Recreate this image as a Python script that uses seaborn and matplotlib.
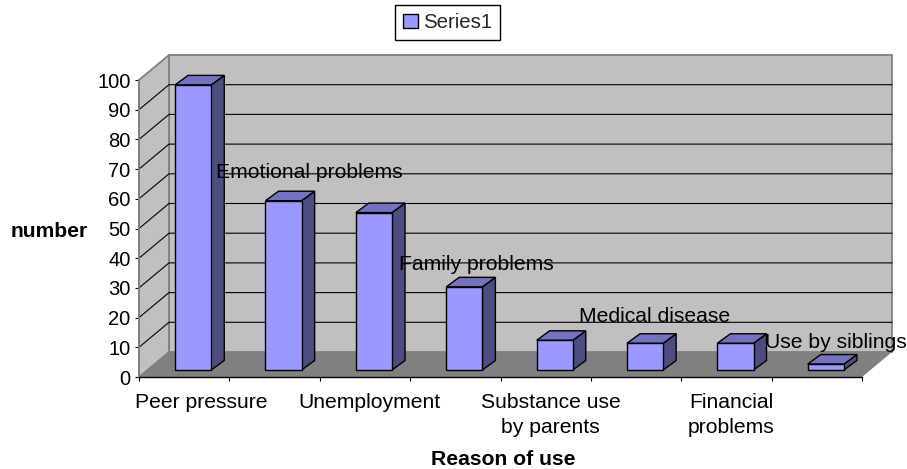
import numpy as np
import pandas as pd
import matplotlib
matplotlib.use('Agg')
import matplotlib.pyplot as plt
import seaborn as sns
from matplotlib.patches import Polygon

categories = ['Peer pressure', 'Emotional problems', 'Unemployment', 'Family problems',
              'Substance use\nby parents', 'Medical disease', 'Financial\nproblems', 'Use by siblings']
values = [96, 57, 53, 28, 10, 9, 9, 2]
series_name = 'Series1'

# labels that sit on the axis, the rest float above the bars
axis_labels = [0, 2, 4, 6]
floating_labels = [1, 3, 5, 7]
floating_x = [1.38, 3.23, 5.2, 7.21]
floating_y = [69, 38, 20.5, 11.5]

sns.set_theme(style='white')
plt.rcParams['font.family'] = ['Liberation Sans', 'DejaVu Sans']

W, H = 907, 469
fig = plt.figure(figsize=(W / 100, H / 100), dpi=100)
ax = fig.add_axes([139 / W, (H - 377) / H, 723 / W, 297 / H])
ax.patch.set_visible(False)

df = pd.DataFrame({'reason': categories, 'value': values})
sns.barplot(x='reason', y='value', data=df, color='#9999FF', saturation=1, width=0.4,
            edgecolor='black', linewidth=1, label=series_name, zorder=5, ax=ax)

ax.set_xlim(-0.5, 7.5)
ax.set_ylim(0, 100)

# one pixel in data units, used for the fake depth
px_x = 8 / 723
px_y = 100 / 297
depth_x, depth_y = 30 * px_x, 25 * px_y


def face(points, color, z, edge='none', lw=0):
    ax.add_patch(Polygon(points, closed=True, facecolor=color, edgecolor=edge, linewidth=lw,
                         clip_on=False, zorder=z))


x0, x1 = -0.5, 7.5
# walls and floor
face([(x0 + depth_x, depth_y), (x1 + depth_x, depth_y), (x1 + depth_x, 100 + depth_y), (x0 + depth_x, 100 + depth_y)],
     '#C0C0C0', 1, '#808080', 1.3)
face([(x0, 0), (x0 + depth_x, depth_y), (x0 + depth_x, 100 + depth_y), (x0, 100)], '#C0C0C0', 1, '#808080', 1.3)
face([(x0, 0), (x1, 0), (x1 + depth_x, depth_y), (x0 + depth_x, depth_y)], '#808080', 2)

for v in range(10, 100, 10):
    ax.plot([x0, x0 + depth_x, x1 + depth_x], [v, v + depth_y, v + depth_y], color='black', lw=0.8,
            clip_on=False, zorder=1.5)

# 3d faces of the bars
shift_x, shift_y = 9 * px_x, 7 * px_y
back_x, back_y = 13 * px_x, 9.5 * px_y
for bar in ax.patches:
    if bar.get_zorder() != 5:
        continue
    bar.set_x(bar.get_x() + shift_x)
    bar.set_y(shift_y)
    bar.set_clip_on(False)
    left, right = bar.get_x(), bar.get_x() + bar.get_width()
    bottom, top = shift_y, shift_y + bar.get_height()
    face([(right, bottom), (right + back_x, bottom + back_y), (right + back_x, top + back_y), (right, top)],
         '#4D4D80', 4, 'black', 1)
    face([(left, top), (right, top), (right + back_x, top + back_y), (left + back_x, top + back_y)],
         '#7373BF', 4, 'black', 1)

ax.set_xticks(np.arange(-0.5, 8.5), labels=[])
ax.set_yticks(range(0, 110, 10))
ax.tick_params(axis='x', length=3, width=0.8, color='black', bottom=True)
ax.tick_params(axis='y', length=3, width=0.8, color='black', left=True, labelsize=14.5, pad=3, labelcolor='black')

for spine in ['top', 'right']:
    ax.spines[spine].set_visible(False)
ax.spines['left'].set_color('#808080')
ax.spines['left'].set_linewidth(1.3)
ax.spines['bottom'].set_color('black')
ax.spines['bottom'].set_linewidth(1)
ax.spines['bottom'].set_zorder(6)

label_nudge = [17, 5, 5, 5]
for i, nudge in zip(axis_labels, label_nudge):
    ax.annotate(categories[i], xy=(i, 0), xycoords='data', xytext=(nudge * 0.72, -11.5), textcoords='offset points',
                ha='center', va='top', fontsize=15.2, color='black', linespacing=1.4, annotation_clip=False)

for i, fx, fy in zip(floating_labels, floating_x, floating_y):
    ax.text(fx, fy, categories[i], ha='center', va='center', fontsize=15.2, color='black', zorder=10, clip_on=False)

ax.set_xlabel('Reason of use', fontsize=15.2, fontweight='bold', color='black', va='center')
ax.xaxis.set_label_coords((503 - 139) / 723, -82 / 297)
ax.set_ylabel('number', fontsize=15.2, fontweight='bold', color='black', rotation=0, ha='center', va='center')
ax.yaxis.set_label_coords((49 - 139) / 723, (377 - 231) / 297)

leg = ax.legend(loc='center', bbox_to_anchor=(447.5 / W, 1 - 22.5 / H), bbox_transform=fig.transFigure,
                fontsize=14.7, frameon=True, fancybox=False, edgecolor='black', framealpha=1,
                handlelength=0.7, handleheight=0.7, handletextpad=0.25, borderpad=0.4)
leg.get_frame().set_linewidth(1)

fig.savefig('out.png', dpi=100, facecolor='white')
